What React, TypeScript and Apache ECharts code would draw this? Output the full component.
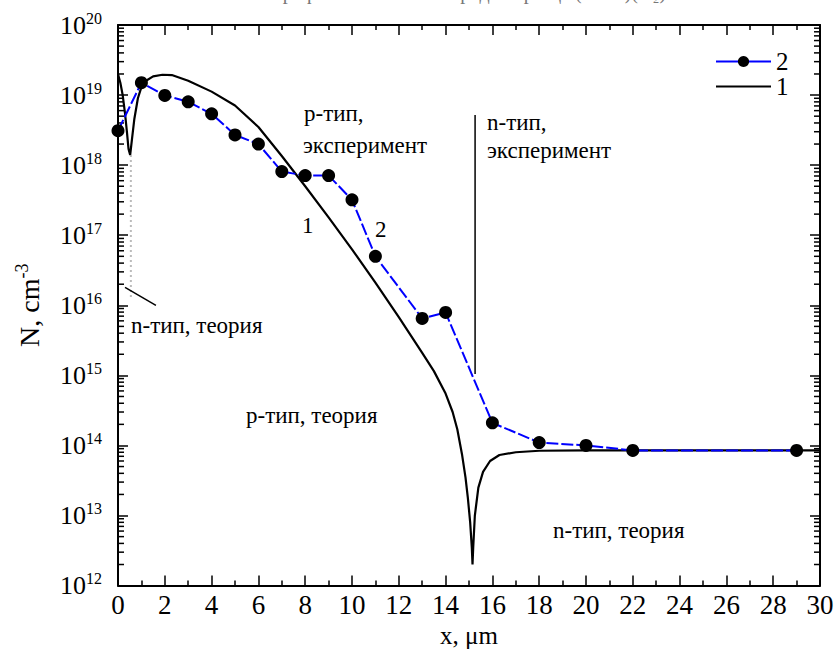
import React, { useEffect, useRef } from "react";
import * as echarts from "echarts";

// ---- data ----
const expX = [0, 1, 2, 3, 4, 5, 6, 7, 8, 9, 10, 11, 13, 14, 16, 18, 20, 22, 29];
const expN = [3.1e18, 1.5e19, 9.9e18, 8.0e18, 5.4e18, 2.7e18, 2.0e18, 8.1e17, 7.1e17, 7.1e17, 3.2e17, 5.0e16, 6.5e15, 7.9e15, 2.1e14, 1.1e14, 1.0e14, 8.5e13, 8.5e13];

const theoryX = [0, 0.1, 0.2, 0.3, 0.38, 0.45, 0.52, 0.6, 0.7, 0.85, 1.0, 1.2, 1.5, 1.9, 2.3, 3, 4, 5, 6, 7, 8, 9, 10, 11, 12, 13, 13.5, 14, 14.3, 14.5, 14.7, 14.85, 14.95, 15.05, 15.12, 15.15, 15.18, 15.25, 15.4, 15.6, 15.9, 16.3, 17, 18, 20, 25, 30];
const theoryN = [2.0e19, 1.5e19, 1.0e19, 5.5e18, 3.0e18, 1.7e18, 1.4e18, 2.4e18, 4.6e18, 9.0e18, 1.3e19, 1.6e19, 1.85e19, 1.95e19, 1.93e19, 1.6e19, 1.12e19, 7.1e18, 3.5e18, 1.35e18, 5.0e17, 1.8e17, 6.3e16, 2.1e16, 6.8e15, 2.1e15, 1.15e15, 5.5e14, 3.0e14, 1.7e14, 7.5e13, 3.5e13, 1.8e13, 8.0e12, 3.5e12, 2.0e12, 3.5e12, 1.0e13, 2.5e13, 4.2e13, 6.0e13, 7.3e13, 8.0e13, 8.4e13, 8.5e13, 8.5e13, 8.5e13];

const xTickLabels = [0, 2, 4, 6, 8, 10, 12, 14, 16, 18, 20, 22, 24, 26, 28, 30];
const yExponents = [12, 13, 14, 15, 16, 17, 18, 19, 20];
const yMinorMultipliers = [2, 3, 4, 5, 6, 7, 8, 9];

// annotation pointer lines (data coordinates)
const nExpPointer = [[15.26, 5.2e18], [15.26, 1.05e15]];
const dipGuide = [[0.55, 1.4e18], [0.55, 1.2e16]];
const nTheoryPointer = [[0.3, 1.8e16], [1.62, 1.0e16]];

const FONT = "Liberation Serif, DejaVu Serif, serif";

const txt = (left: number, top: number, s: string, size = 23, color = "#000") => ({
  type: "text",
  left,
  top,
  style: {
    text: `{a|${s}}`,
    rich: { a: { fontFamily: FONT, fontSize: size, fill: color, color, lineHeight: size + 4 } },
    fill: color,
  },
});

export default function App() {
  const ref = useRef<HTMLDivElement>(null);
  useEffect(() => {
    if (!ref.current) return;
    const chart = echarts.init(ref.current, undefined, { renderer: "svg" });
    const minorVals: number[][] = [];
    for (let i = 0; i < yExponents.length - 1; i++) {
      for (const m of yMinorMultipliers) minorVals.push([0, m * Math.pow(10, yExponents[i])]);
    }
    const axisCommonX = {
      type: "value",
      min: xTickLabels[0],
      max: xTickLabels[xTickLabels.length - 1],
      interval: 2,
      splitLine: { show: false },
      axisLine: { show: true, onZero: false, lineStyle: { color: "#000", width: 2 } },
      axisTick: { show: true, inside: true, length: 10, lineStyle: { color: "#000", width: 1.5 } },
      minorTick: { show: true, splitNumber: 2, length: 5, lineStyle: { color: "#000", width: 1.5 } },
    };
    const axisCommonY = {
      type: "log",
      logBase: 10,
      min: Math.pow(10, yExponents[0]),
      max: Math.pow(10, yExponents[yExponents.length - 1]),
      splitNumber: 8,
      splitLine: { show: false },
      axisLine: { show: true, onZero: false, lineStyle: { color: "#000", width: 2 } },
      axisTick: { show: true, inside: true, length: 10, lineStyle: { color: "#000", width: 1.5 } },
    };
    const option: any = {
      animation: false,
      backgroundColor: "#fff",
      textStyle: { fontFamily: FONT, color: "#000" },
      grid: { left: 118, right: 20, top: 25, bottom: 49 },
      legend: {
        orient: "vertical",
        left: 710,
        top: 44,
        itemWidth: 55,
        itemHeight: 14,
        itemGap: 0,
        textStyle: { fontFamily: FONT, fontSize: 25, color: "#000", lineHeight: 25 },
        data: [
          { name: "2", lineStyle: { type: "solid" } },
          { name: "1", itemStyle: { opacity: 0 } },
        ],
      },
      xAxis: [
        {
          ...axisCommonX,
          position: "bottom",
          axisLabel: {
            margin: 4,
            formatter: (v: number) => `{a|${v}}`,
            rich: { a: { fontFamily: FONT, fontSize: 27, color: "#000", lineHeight: 30 } },
          },
          name: "{a|x, μm}",
          nameLocation: "middle",
          nameGap: 30,
          nameTextStyle: { rich: { a: { fontFamily: FONT, fontSize: 25, color: "#000", lineHeight: 28 } } },
        },
        { ...axisCommonX, position: "top", axisLabel: { show: false } },
      ],
      yAxis: [
        {
          ...axisCommonY,
          position: "left",
          axisLabel: {
            margin: 16,
            formatter: (v: number) => `{b|10}{s|${Math.round(Math.log10(v))}}`,
            rich: {
              b: { fontFamily: FONT, fontSize: 26, color: "#000", lineHeight: 30 },
              s: { fontFamily: FONT, fontSize: 16, color: "#000", verticalAlign: "top", padding: [0, 0, 12, 0] },
            },
          },
          name: "{n|N, cm}{s|-3}",
          nameLocation: "middle",
          nameGap: 73,
          nameRotate: 90,
          nameTextStyle: {
            rich: {
              n: { fontFamily: FONT, fontSize: 28, color: "#000", lineHeight: 32 },
              s: { fontFamily: FONT, fontSize: 18, color: "#000", padding: [0, 0, 14, 0] },
            },
          },
        },
        { ...axisCommonY, position: "right", axisLabel: { show: false } },
      ],
      graphic: [
        txt(304, 102, "р-тип,"),
        txt(303, 134, "эксперимент"),
        txt(487, 111, "n-тип,"),
        txt(487, 139, "эксперимент"),
        txt(302, 214, "1"),
        txt(375, 218, "2"),
        txt(131, 314, "n-тип, теория"),
        txt(246, 404, "р-тип, теория"),
        txt(553, 519, "n-тип, теория"),
        txt(176, -18, "Расчётный профиль носителей заряда образца (CdTe)(O₂).", 20, "#777"),
      ],
      series: [
        {
          name: "minor",
          type: "custom",
          silent: true,
          clip: false,
          xAxisIndex: 0,
          yAxisIndex: 0,
          data: minorVals,
          renderItem: (_p: any, api: any) => {
            const v = api.value(1);
            const pl = api.coord([xTickLabels[0], v]);
            const pr = api.coord([xTickLabels[xTickLabels.length - 1], v]);
            const st = { stroke: "#000", lineWidth: 1.5 };
            return {
              type: "group",
              children: [
                { type: "line", shape: { x1: pl[0], y1: pl[1], x2: pl[0] + 6, y2: pl[1] }, style: st },
                { type: "line", shape: { x1: pr[0] - 6, y1: pr[1], x2: pr[0], y2: pr[1] }, style: st },
              ],
            };
          },
        },
        {
          name: "dipGuide",
          type: "line",
          silent: true,
          symbol: "none",
          data: dipGuide,
          lineStyle: { color: "#bbb", width: 2, type: [2, 3] },
        },
        {
          name: "ptr1",
          type: "line",
          silent: true,
          symbol: "none",
          data: nExpPointer,
          lineStyle: { color: "#000", width: 1.5 },
        },
        {
          name: "ptr2",
          type: "line",
          silent: true,
          symbol: "none",
          data: nTheoryPointer,
          lineStyle: { color: "#000", width: 1.5 },
        },
        {
          name: "1",
          type: "line",
          symbol: "none",
          data: theoryX.map((x, i) => [x, theoryN[i]]),
          lineStyle: { color: "#000", width: 2.2 },
          itemStyle: { color: "#000" },
          z: 3,
        },
        {
          name: "2",
          type: "line",
          symbol: "circle",
          symbolSize: 13,
          data: expX.map((x, i) => [x, expN[i]]),
          lineStyle: { color: "#0000ff", width: 2, type: [12, 3] },
          itemStyle: { color: "#000", borderWidth: 0 },
          z: 4,
        },
      ],
    };
    chart.setOption(option);
    return () => chart.dispose();
  }, []);
  return <div ref={ref} style={{ position: "absolute", left: 0, top: 0, width: 840, height: 653 }} />;
}
